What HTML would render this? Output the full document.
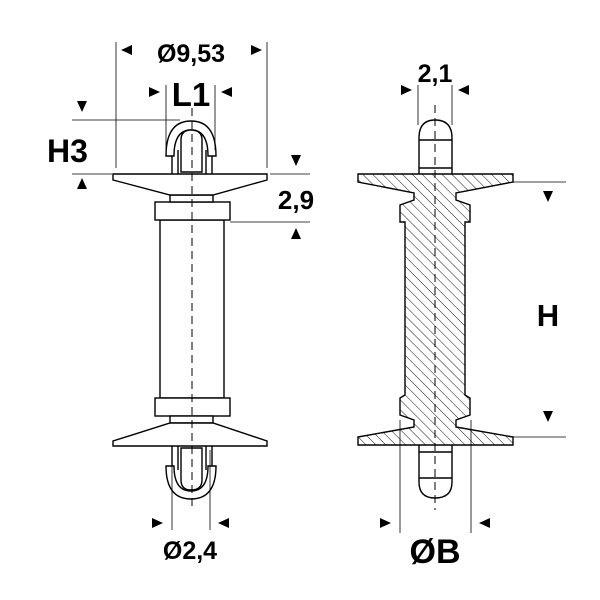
<!DOCTYPE html>
<html><head><style>body{margin:0;background:#fff}svg{display:block}text{font-family:"Liberation Sans",sans-serif;font-weight:bold;fill:#000}</style></head><body>
<svg width="600" height="600" viewBox="0 0 600 600" xmlns="http://www.w3.org/2000/svg">
<defs>
<pattern id="h" width="7" height="7" patternUnits="userSpaceOnUse" patternTransform="rotate(-45)"><line x1="0" y1="0" x2="0" y2="7" stroke="#000" stroke-width="0.9"/></pattern>
</defs>
<g fill="none" stroke="#000" stroke-width="1.4">
<rect x="160" y="220" width="64" height="178" fill="#fff"/>
<rect x="155" y="202" width="75" height="18" fill="#fff"/>
<rect x="155" y="398" width="75" height="18" fill="#fff"/>
<rect x="170" y="195" width="43" height="7" fill="#fff"/>
<rect x="170" y="416" width="43" height="7" fill="#fff"/>
<path d="M113 174 H267 V180 L213 195 H170 L113 180 Z" fill="#fff"/>
<path d="M113 446 H267 V441 L213 423 H170 L113 441 Z" fill="#fff"/>
<path d="M172 174 V150 M212 174 V150 M178 174 V150 M206 174 V150"/>
<path d="M166 156 Q166 121 191 121 Q216 121 216 156 H208 Q208 130 191 130 Q174 130 174 156 Z" fill="#fff"/>
<path d="M181 172 V140 Q181 130 191 130 Q202 130 202 140 V172 Z" fill="#fff"/>
<path d="M172 446 V470 M212 446 V470 M178 446 V470 M206 446 V470"/>
<path d="M166 466 Q166 499 191 499 Q216 499 216 466 H208 Q208 491 191 491 Q174 491 174 466 Z" fill="#fff"/>
<path d="M181 448 V480 Q181 490 191 490 Q202 490 202 480 V448 Z" fill="#fff"/>
<path d="M419 174 V138 Q419 120 435 120 Q452 120 452 138 V174" fill="#fff"/>
<line x1="419" y1="140" x2="452" y2="140"/><line x1="419" y1="168" x2="452" y2="168"/>
<path d="M419 445 V482 Q419 498 435 498 Q452 498 452 482 V445" fill="#fff"/>
<line x1="419" y1="452" x2="452" y2="452"/><line x1="419" y1="478" x2="452" y2="478"/>
<path d="M358 174 H513 V182 L456 193 V200 L470 205 V222 L465 222 V395 L470 398 V415 L456 420 V427 L513 437 V445 H358 V437 L414 427 V420 L400 415 V398 L405 395 V222 L400 222 V205 L414 200 V193 L358 182 Z" fill="url(#h)"/>
</g>
<g stroke="#000" stroke-width="1" stroke-dasharray="8,5">
<line x1="192" y1="108" x2="192" y2="510"/>
<line x1="435" y1="105" x2="435" y2="510"/>
</g>
<g stroke="#000" stroke-width="0.8">
<line x1="116" y1="42" x2="116" y2="168"/><line x1="267" y1="42" x2="267" y2="168"/>
<line x1="166" y1="85" x2="166" y2="150"/><line x1="215" y1="85" x2="215" y2="150"/>
<line x1="72" y1="120" x2="180" y2="120"/><line x1="72" y1="174" x2="112" y2="174"/>
<line x1="270" y1="174" x2="310" y2="174"/><line x1="230" y1="222" x2="310" y2="222"/>
<line x1="418" y1="85" x2="418" y2="125"/><line x1="452" y1="85" x2="452" y2="125"/>
<line x1="513" y1="182" x2="566" y2="182"/><line x1="513" y1="437" x2="566" y2="437"/>
<line x1="172" y1="450" x2="172" y2="530"/><line x1="210" y1="450" x2="210" y2="530"/>
<line x1="400" y1="420" x2="400" y2="533"/><line x1="471" y1="420" x2="471" y2="533"/>
</g>
<g fill="#000">
<path d="M121 50 l11 -5 v10z"/><path d="M262 50 l-11 -5 v10z"/>
<path d="M160 92 l-11 -5 v10z"/><path d="M221 92 l11 -5 v10z"/>
<path d="M82 112 l-5 -11 h10z"/><path d="M82 178 l-5 11 h10z"/>
<path d="M296 166 l-5 -11 h10z"/><path d="M296 228 l-5 11 h10z"/>
<path d="M412 90 l-11 -5 v10z"/><path d="M458 90 l11 -5 v10z"/>
<path d="M548 202 l-5 -11 h10z"/><path d="M548 422 l-5 -11 h10z"/>
<path d="M163 523 l-11 -5 v10z"/><path d="M218 523 l11 -5 v10z"/>
<path d="M391 523 l-11 -5 v10z"/><path d="M479 523 l11 -5 v10z"/>
</g>
<text x="191" y="62" font-size="25" font-weight="bold" text-anchor="middle">Ø9,53</text>
<text x="191" y="106" font-size="33" font-weight="bold" text-anchor="middle">L1</text>
<text x="47" y="162" font-size="32" font-weight="bold">H3</text>
<text x="296" y="209" font-size="26" font-weight="bold" text-anchor="middle">2,9</text>
<text x="435" y="82" font-size="25" font-weight="bold" text-anchor="middle">2,1</text>
<text x="548" y="326" font-size="31" font-weight="bold" text-anchor="middle">H</text>
<text x="190" y="559" font-size="25" font-weight="bold" text-anchor="middle">Ø2,4</text>
<text x="435" y="563" font-size="34" font-weight="bold" text-anchor="middle">ØB</text>
</svg>
</body></html>
